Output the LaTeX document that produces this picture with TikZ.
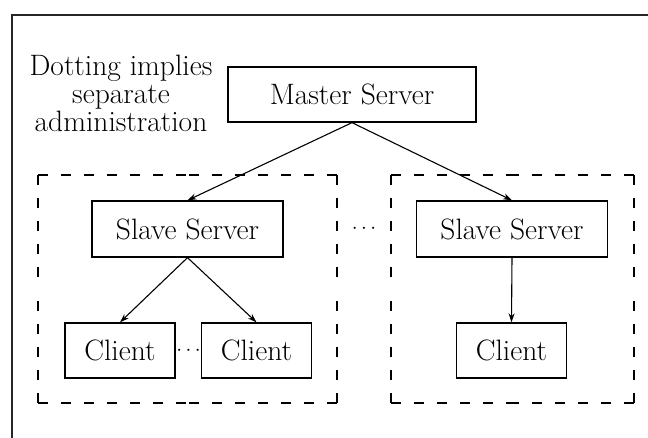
\documentclass[tikz,border=0pt]{standalone}
\usetikzlibrary{arrows.meta}
\begin{document}
\begin{tikzpicture}[x=1pt,y=-1pt,
  every node/.style={font=\fontsize{29.5}{28}\selectfont},
  box/.style={draw,line width=1.3pt,inner sep=0pt},
  dotsep/.style={font=\fontsize{21}{24}\selectfont,inner sep=0pt},
  link/.style={line width=1.1pt,-{Stealth[length=9pt,width=6pt]}},
  dashside/.style={line width=1.3pt,dash pattern=on 10pt off 13pt},
  frame/.style={line width=1.5pt,black!85}]
\useasboundingbox (0,0) rectangle (648,438);
% open frame
\coordinate (ftl) at (12,15);
\coordinate (ftr) at (648,15);
\coordinate (fbl) at (12,438);
\draw[frame] (ftr) -- (ftl) -- (fbl);
% note
\node[align=center] (note) at (121,93) {Dotting implies\\separate\\administration};
% servers and clients
\node[box,minimum width=248pt,minimum height=55pt] (master) at (352,94.5) {Master Server};
\node[box,minimum width=191pt,minimum height=56pt] (slaveL) at (187.5,229) {Slave Server};
\node[box,minimum width=191pt,minimum height=56pt] (slaveR) at (512,229) {Slave Server};
\node[box,minimum width=110pt,minimum height=55pt] (c1) at (120,350.5) {Client};
\node[box,minimum width=110pt,minimum height=55pt] (c2) at (256.5,350.5) {Client};
\node[box,minimum width=110pt,minimum height=55pt] (c3) at (511.5,350.5) {Client};
\node[dotsep] (dotsS) at (364,229) {$\cdots$};
\node[dotsep] (dotsC) at (188.5,350.5) {$\cdots$};
% administration domains: every side dashed from both of its corners
\foreach \l/\r in {38/337,391/634}{
  \pgfmathsetmacro{\mx}{(\l+\r)/2}
  \foreach \ya/\yb in {175/403,403/175}{
    \draw[dashside] (\l,\ya) -- (\mx,\ya);
    \draw[dashside] (\r,\ya) -- (\mx,\ya);
    \draw[dashside] (\l,\ya) -- (\l,289);
    \draw[dashside] (\r,\ya) -- (\r,289);
  }
}
% connectors
\draw[link] (master.south) -- (slaveL.north);
\draw[link] (master.south) -- (slaveR.north);
\draw[link] (slaveL.south) -- (c1.north);
\draw[link] (slaveL.south) -- (c2.north);
\draw[link] (slaveR.south) -- (c3.north);
\end{tikzpicture}
\end{document}
